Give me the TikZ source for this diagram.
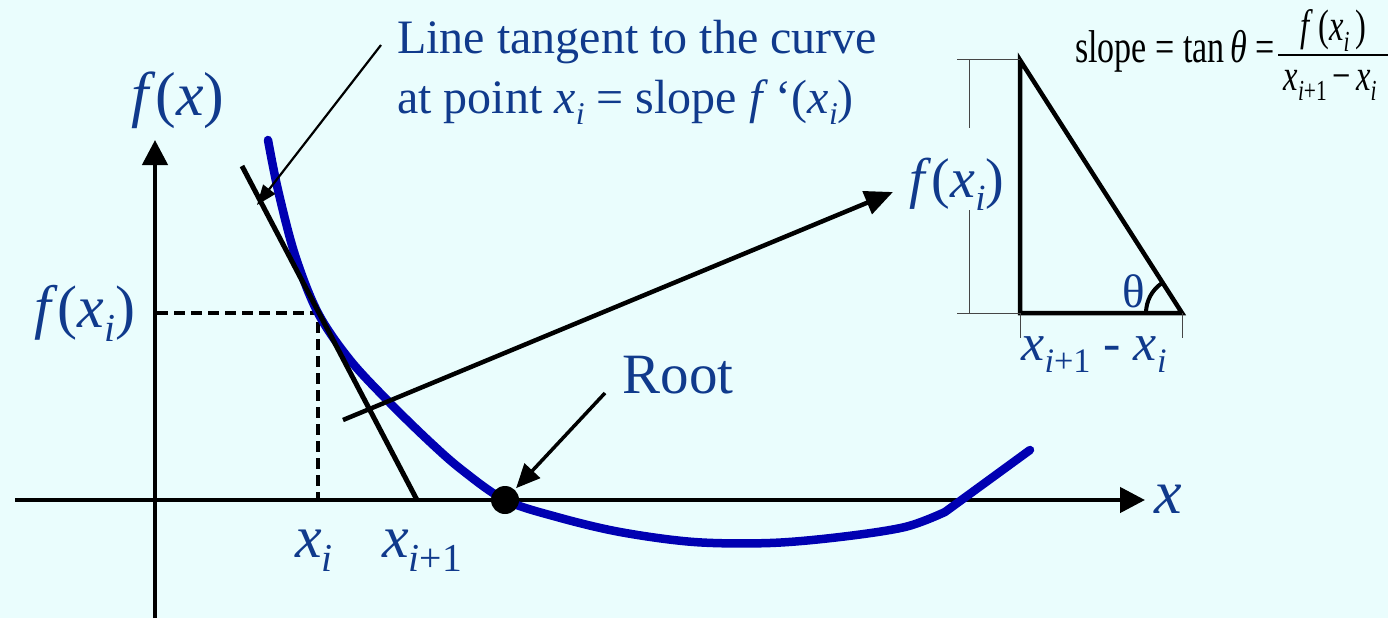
\documentclass[tikz,border=0pt]{standalone}
\usepackage{fontspec}
\setmainfont{Liberation Serif}
\usetikzlibrary{arrows.meta}
\definecolor{bg}{RGB}{234,253,253}
\definecolor{txt}{RGB}{16,58,140}
\definecolor{crv}{RGB}{0,0,178}
\definecolor{dimc}{RGB}{70,70,70}
\newcommand\sbs[1]{\raisebox{-0.24em}{\scalebox{0.66}{#1}}}
\newcommand\fs[1]{\fontsize{#1}{#1}\selectfont}
\begin{document}
\begin{tikzpicture}[x=1pt,y=-1pt,
  lbl/.style={text=txt,inner sep=0pt,anchor=base},
  blk/.style={text=black,inner sep=0pt,anchor=base},
  axis/.style={line width=4.5pt,-{Triangle[length=25pt,width=25pt]}},
  dashline/.style={line width=3.2pt,dash pattern=on 11pt off 6pt},
  tline/.style={line width=5pt},
  curve/.style={crv,line width=8.5pt,line cap=round,line join=round},
  barrow/.style={line width=4.5pt,-{Triangle[length=28pt,width=24pt]}},
  rarrow/.style={line width=3.5pt,-{Triangle[length=24pt,width=21pt]},shorten >=2pt},
  tarrow/.style={line width=2.2pt,-{Triangle[length=20pt,width=15pt]}},
  tri/.style={line width=4.5pt,line join=miter},
  dim/.style={dimc,line width=1pt},
  dotn/.style={circle,fill=black,minimum size=28pt,inner sep=0pt}]
\useasboundingbox (0,0) rectangle (1388,618);
\fill[bg] (0,0) rectangle (1388,618);

% axes
\coordinate (ybot) at (155,618);
\coordinate (ytop) at (155,140);
\coordinate (xleft) at (15,500);
\coordinate (xright) at (1145,500);
\draw[axis] (ybot) -- (ytop);
\draw[axis] (xleft) -- (xright);
\node[lbl,font=\fs{62}] (fxl) at (178,115) {\textit{f}(\textit{x})};
\node[lbl,font=\fs{62}] (xl) at (1168,513) {\textit{x}};

% dashed lines
\coordinate (P) at (318,313);
\coordinate (Py) at (157,313);
\coordinate (Px) at (318,498);
\draw[dashline] (Py) -- (P) -- (Px);
\node[lbl,font=\fs{60}] (fxil) at (85,327) {\textit{f}(\textit{x}\sbs{\textit{i}})};
\node[lbl,font=\fs{60}] (xil) at (314,557) {\textit{x}\sbs{\textit{i}}};
\node[lbl,font=\fs{60}] (xi1l) at (422,557) {\textit{x}\sbs{\textit{i}+1}};

% curve
\draw[curve] plot[smooth,tension=0.55] coordinates {(268,140) (278,190) (295,255) (318,313) (350,360) (390,403) (430,442) (462,470) (505,500) (557,517) (620,532) (694,542) (770,543) (840,537) (905,527) (945,512)} -- (1030,450);

% tangent line
\coordinate (T1) at (242,166);
\coordinate (T2) at (417,500);
\draw[tline] (T1) -- (T2);

% big arrow
\coordinate (bs) at (343,420);
\coordinate (be) at (893,192);
\draw[barrow] (bs) -- (be);

% root
\node[dotn] (root) at (505,500) {};
\node[lbl,font=\fs{57}] (rootl) at (678,393) {Root};
\coordinate (rs) at (605,393);
\draw[rarrow] (rs) -- (root);

% tangent label
\node[lbl,anchor=base west,font=\fs{48}] (t1) at (397,53) {Line tangent to the curve};
\node[lbl,anchor=base west,font=\fs{48}] (t2) at (397,113) {at point \textit{x}\sbs{\textit{i}} = slope \textit{f}\,‘(\textit{x}\sbs{\textit{i}})};
\coordinate (ts) at (381,45);
\coordinate (tp) at (257,205);
\draw[tarrow] (ts) -- (tp);

% triangle
\coordinate (A) at (1020,60);
\coordinate (B) at (1020,313);
\coordinate (C) at (1182,313);
\draw[tri] (A) -- (B) -- (C) -- cycle;
\draw[line width=4pt] ([shift={(-36,0)}]C) arc[start angle=180,end angle=236,radius=36];
\node[lbl,font=\fs{47}] (th) at (1134,307) {θ};

% dimensions
\coordinate (d1) at (957,60);
\coordinate (d2) at (957,313);
\draw[dim] (d1) -- (A);
\draw[dim] (d2) -- (B);
\coordinate (v1) at (969,60);
\coordinate (v2) at (969,128);
\coordinate (v3) at (969,210);
\coordinate (v4) at (969,313);
\draw[dim] (v1) -- (v2);
\draw[dim] (v3) -- (v4);
\node[lbl,font=\fs{56}] (fl) at (957,197) {\textit{f}(\textit{x}\sbs{\textit{i}})};
\coordinate (B2) at (1020,338);
\coordinate (C2) at (1182,338);
\draw[dim] (B) -- (B2);
\draw[dim] (C) -- (C2);
\node[lbl,font=\fs{52}] (dx) at (1094,360) {\textit{x}\sbs{\textit{i}+1} - \textit{x}\sbs{\textit{i}}};

% formula
\node[blk,anchor=base west,font=\fs{46}] (sl) at (1075,63) {\scalebox{0.74}[1]{slope = tan\,\textit{θ} =}};
\node[blk,font=\fs{44}] (num) at (1333,41) {\scalebox{0.74}[1]{\textit{f}\,(\textit{x}\sbs{\textit{i}}\,)}};
\node[blk,font=\fs{44}] (den) at (1330,90) {\scalebox{0.74}[1]{\textit{x}\sbs{\textit{i}+1}\,−\,\textit{x}\sbs{\textit{i}}}};
\coordinate (fb1) at (1278,55);
\coordinate (fb2) at (1390,55);
\draw[line width=2pt] (fb1) -- (fb2);
\end{tikzpicture}
\end{document}
